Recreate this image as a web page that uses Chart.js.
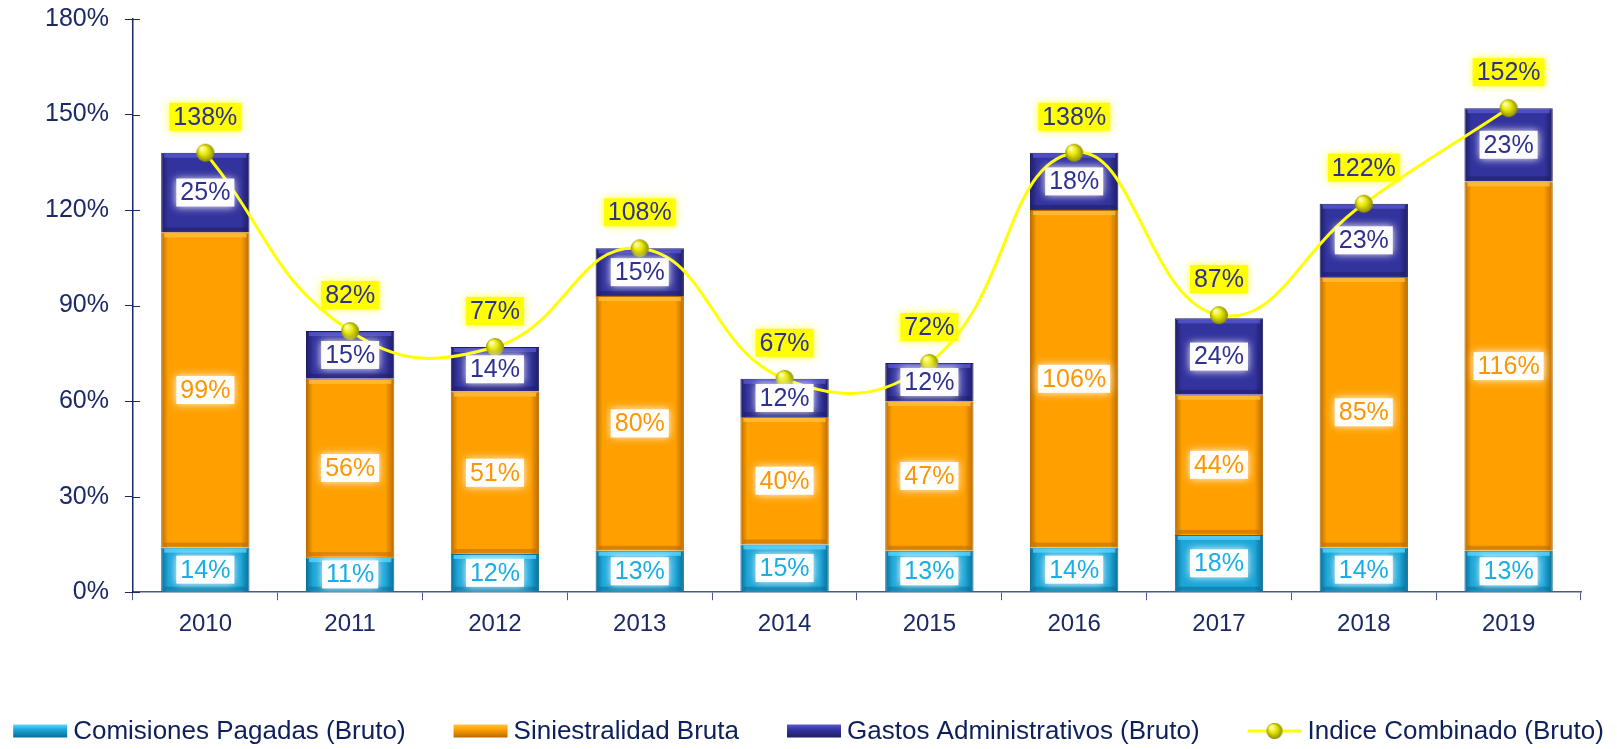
<!DOCTYPE html>
<html lang="es">
<head>
  <meta charset="UTF-8"/>
  <title>Indice Combinado</title>
  <script src="https://cdn.jsdelivr.net/npm/chart.js"></script>
  <style>
    body { margin: 0; background: #fff; }
    #wrap { width: 1617px; height: 749px; }
  </style>
</head>
<body>
  <div id="wrap"><canvas id="chart"></canvas></div>

  <script>
    // values (%)
    const years          = ['2010','2011','2012','2013','2014','2015','2016','2017','2018','2019'];
    const comisiones     = [14, 11, 12, 13, 15, 13, 14, 18, 14, 13];
    const siniestralidad = [99, 56, 51, 80, 40, 47, 106, 44, 85, 116];
    const gastos         = [25, 15, 14, 15, 12, 12, 18, 24, 23, 23];
    const indice         = [138, 82, 77, 108, 67, 72, 138, 87, 122, 152];
    const yMax = 180, yStep = 30;

    const NAVY = '#1b2a66';
    const FONT = "'Liberation Sans', Arial, sans-serif";
    const BAR_PCT = 0.61;

    // colours: [edge, main, highlight]
    const cCom  = ['#0b6d96', '#1ba6d8', '#5fd6ff'];
    const cSin  = ['#b96a00', '#ffa000', '#ffc040'];
    const cGas  = ['#1e1e66', '#33339e', '#5a5ad0'];
    const barCols = [cCom, cSin, cGas];

    // bar fill: horizontal gradient across each bar for the 3D look
    function barFill(cols) {
      return function(c) {
        const chart = c.chart;
        const xs = chart.scales.x;
        if (!chart.chartArea || !xs || c.type !== 'data') return cols[1];
        const cx = xs.getPixelForValue(c.dataIndex);
        const w = xs.width / years.length * BAR_PCT;
        const g = chart.ctx.createLinearGradient(cx - w / 2, 0, cx + w / 2, 0);
        g.addColorStop(0, cols[0]);
        g.addColorStop(0.08, cols[1]);
        g.addColorStop(0.5, cols[1]);
        g.addColorStop(0.9, cols[1]);
        g.addColorStop(1, cols[0]);
        return g;
      };
    }

    // yellow sphere marker
    function sphere(r) {
      const cv = document.createElement('canvas');
      cv.width = cv.height = r * 2 + 2;
      const x = cv.getContext('2d');
      const g = x.createRadialGradient(r * 0.7, r * 0.6, 1, r + 1, r + 1, r);
      g.addColorStop(0, '#ffffb0');
      g.addColorStop(0.45, '#e8e800');
      g.addColorStop(1, '#8c8c00');
      x.fillStyle = g;
      x.beginPath(); x.arc(r + 1, r + 1, r, 0, Math.PI * 2); x.fill();
      return cv;
    }
    const ball = sphere(9);
    const smallBall = sphere(8);

    function drawLabel(ctx, text, x, y, bg, fg, glow) {
      const w = ctx.measureText(text).width + 8, h = 28;
      ctx.save();
      ctx.shadowColor = glow; ctx.shadowBlur = 8;
      ctx.fillStyle = bg;
      ctx.fillRect(x - w / 2, y - h / 2, w, h);
      ctx.restore();
      ctx.fillStyle = fg;
      ctx.fillText(text, x, y + 1);
    }

    const labelPlugin = {
      id: 'labels',
      afterDatasetDraw(chart, args) {
        // bevel: light strip on top, dark strip at the bottom of each segment
        if (args.index > 2) return;
        const ctx = chart.ctx;
        const cols = barCols[args.index];
        ctx.save();
        args.meta.data.forEach(el => {
          const top = Math.min(el.y, el.base), bot = Math.max(el.y, el.base);
          const l = el.x - el.width / 2 + 3, w = el.width - 6;
          ctx.globalAlpha = 0.75;
          ctx.fillStyle = cols[2];
          ctx.fillRect(l, top + 1, w, 4);
          ctx.globalAlpha = 0.55;
          ctx.fillStyle = cols[0];
          ctx.fillRect(l, bot - 5, w, 4);
        });
        ctx.restore();
      },
      afterDatasetsDraw(chart) {
        const ctx = chart.ctx;
        ctx.save();
        ctx.font = '25px ' + FONT;
        ctx.textAlign = 'center';
        ctx.textBaseline = 'middle';
        const fg = ['#18aee6', '#ff9500', '#2e3192'];
        [0, 1, 2].forEach(di => {
          chart.getDatasetMeta(di).data.forEach((el, i) => {
            const v = chart.data.datasets[di].data[i];
            drawLabel(ctx, v + '%', el.x, (el.y + el.base) / 2, 'rgba(255,255,255,0.95)', fg[di], '#ffffff');
          });
        });
        chart.getDatasetMeta(3).data.forEach((el, i) => {
          drawLabel(ctx, indice[i] + '%', el.x, el.y - 36, '#ffff00', '#2e3192', '#ffff40');
        });
        ctx.restore();
      },
      afterDraw(chart) {
        const ctx = chart.ctx;
        // short inner half of the y tick marks
        const ys = chart.scales.y;
        ctx.save();
        ctx.strokeStyle = NAVY; ctx.lineWidth = 1;
        ys.ticks.forEach((t, i) => {
          const y = Math.round(ys.getPixelForTick(i)) + 0.5;
          ctx.beginPath(); ctx.moveTo(ys.right, y); ctx.lineTo(ys.right + 7, y); ctx.stroke();
        });

        // legend in one row along the bottom
        ctx.font = '26px ' + FONT;
        ctx.textBaseline = 'middle';
        ctx.textAlign = 'left';
        const ds = chart.data.datasets;
        const boxW = 54, boxH = 13, gapIn = 6, gapOut = 48;
        const widths = ds.map(d => ctx.measureText(d.label).width);
        const total = widths.reduce((a, b) => a + b, 0) + ds.length * (boxW + gapIn) + (ds.length - 1) * gapOut;
        let x = (chart.width - total) / 2;
        const y = chart.height - 18;
        ds.forEach((d, i) => {
          if (i < 3) {
            const g = ctx.createLinearGradient(0, y - boxH / 2, 0, y + boxH / 2);
            g.addColorStop(0, barCols[i][2]);
            g.addColorStop(0.4, barCols[i][1]);
            g.addColorStop(1, barCols[i][0]);
            ctx.fillStyle = g;
            ctx.fillRect(x, y - boxH / 2, boxW, boxH);
          } else {
            ctx.strokeStyle = '#ffff00'; ctx.lineWidth = 3;
            ctx.beginPath(); ctx.moveTo(x, y); ctx.lineTo(x + boxW, y); ctx.stroke();
            ctx.drawImage(smallBall, x + boxW / 2 - smallBall.width / 2, y - smallBall.height / 2);
          }
          x += boxW + gapIn;
          ctx.fillStyle = '#0d1f5c';
          ctx.fillText(d.label, x, y + 1);
          x += widths[i] + gapOut;
        });
        ctx.restore();
      }
    };

    const ctx = document.getElementById('chart').getContext('2d');
    new Chart(ctx, {
      type: 'bar',
      data: {
        labels: years,
        datasets: [
          { label: 'Comisiones Pagadas (Bruto)', data: comisiones, backgroundColor: barFill(cCom),
            borderColor: cCom[0], borderWidth: 1, order: 1, stack: 'bars', barPercentage: BAR_PCT, categoryPercentage: 1 },
          { label: 'Siniestralidad Bruta', data: siniestralidad, backgroundColor: barFill(cSin),
            borderColor: cSin[0], borderWidth: 1, order: 1, stack: 'bars', barPercentage: BAR_PCT, categoryPercentage: 1 },
          { label: 'Gastos Administrativos (Bruto)', data: gastos, backgroundColor: barFill(cGas),
            borderColor: cGas[0], borderWidth: 1, order: 1, stack: 'bars', barPercentage: BAR_PCT, categoryPercentage: 1 },
          { type: 'line', label: 'Indice Combinado (Bruto)', data: indice, stack: 'line', order: 0,
            borderColor: '#ffff00', borderWidth: 3, tension: 0.45, fill: false,
            pointStyle: ball, pointRadius: 9, pointHoverRadius: 9 }
        ]
      },
      options: {
        responsive: true,
        maintainAspectRatio: false,
        animation: false,
        layout: { padding: { left: 29, right: 36, top: 0, bottom: 4 } },
        plugins: {
          tooltip: { enabled: false },
          legend: { display: false }
        },
        scales: {
          x: {
            stacked: true,
            grid: { drawOnChartArea: false, color: '#4a5a8c', tickLength: 8, offset: true },
            border: { color: '#4a5a8c', width: 1.5 },
            ticks: { color: NAVY, font: { family: FONT, size: 24 }, padding: 10 },
            afterFit(s) { s.height += 96; }
          },
          y: {
            stacked: true,
            min: 0, max: yMax,
            grid: { drawOnChartArea: false, color: NAVY, tickLength: 8 },
            border: { color: NAVY, width: 1.5 },
            ticks: { stepSize: yStep, color: NAVY, font: { family: FONT, size: 25 }, padding: 16,
                     callback: v => v + '%' },
            afterFit(s) { s.paddingTop = 19; }
          }
        }
      },
      plugins: [labelPlugin]
    });
  </script>
</body>
</html>
